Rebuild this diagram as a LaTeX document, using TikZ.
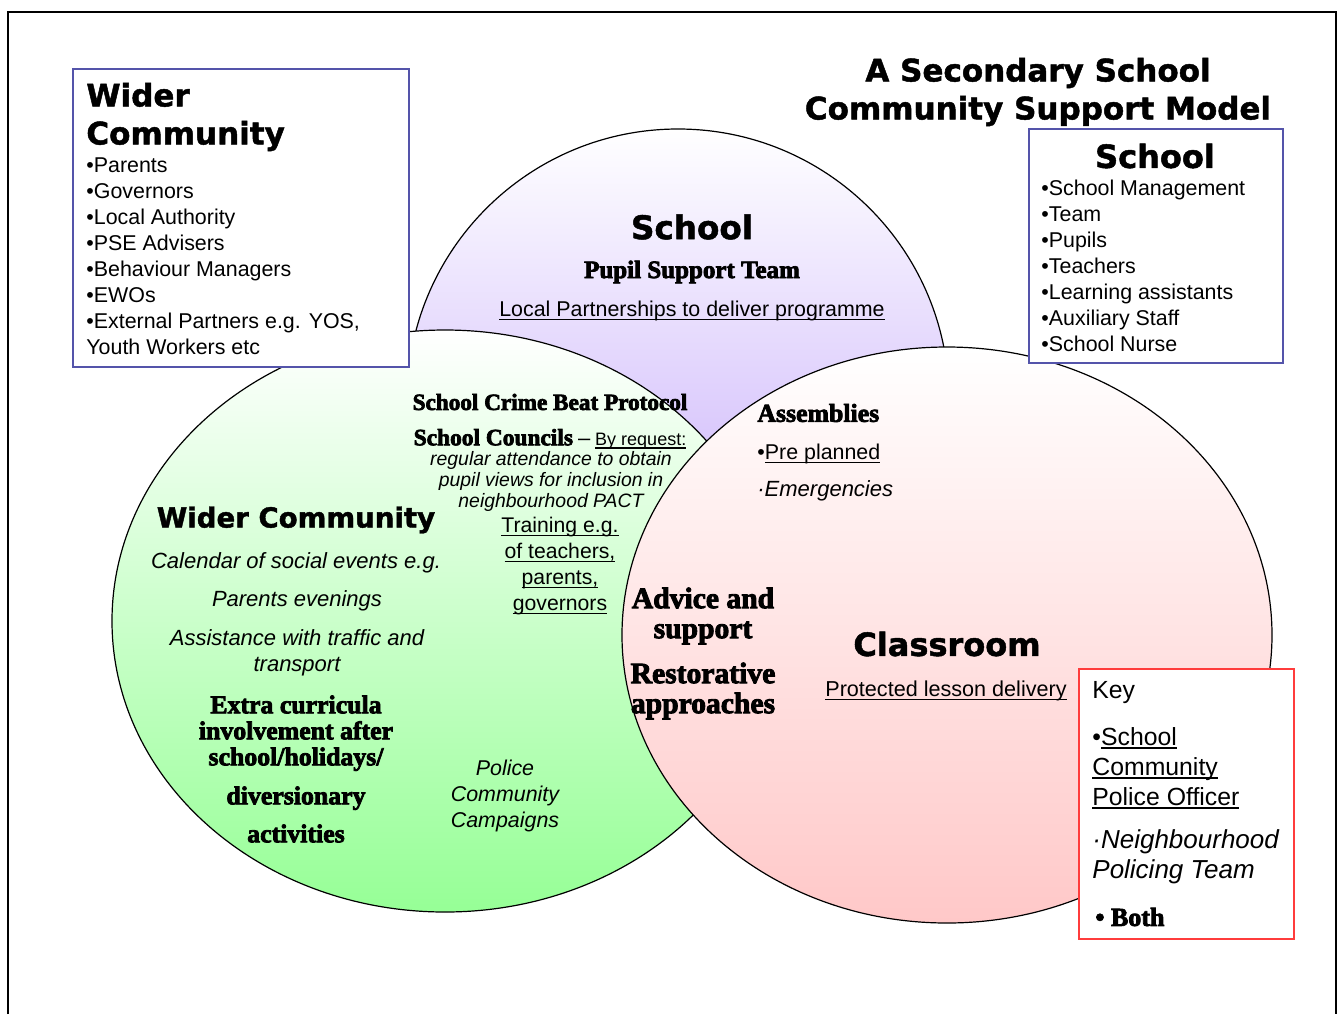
\documentclass[tikz,border=0pt]{standalone}
\usepackage{fontspec}
\setmainfont{Liberation Sans}
\newfontfamily\blackfont{DejaVu Sans}[BoldFeatures={FakeBold=1.5}]
\newfontfamily\slabfont{Liberation Serif}[BoldFeatures={FakeBold=3}]
\usepackage{xcolor}
\usepackage{tikz}
\definecolor{boxblue}{RGB}{84,84,170}
\definecolor{keyred}{RGB}{255,60,60}
\definecolor{schoolbot}{RGB}{190,160,250}
\definecolor{widerbot}{RGB}{150,255,150}
\definecolor{classbot}{RGB}{255,200,200}
\newcommand{\undl}[1]{\setbox0\hbox{#1}\rlap{\rule[-1.7pt]{\wd0}{0.6pt}}\box0}
\tikzstyle{every node}=[inner sep=0pt]
\tikzstyle{ring}=[draw=black,line width=0.6pt]
\tikzstyle{bluebox}=[draw=boxblue,line width=0.8pt,fill=white,anchor=north west]
\tikzstyle{keybox}=[draw=keyred,line width=0.8pt,fill=white,anchor=north west]
\tikzset{
	heavy/.style 2 args={font=\blackfont\bfseries\fontsize{#1}{#2}\selectfont,align=center},
	slab/.style 2 args={font=\slabfont\bfseries\fontsize{#1}{#2}\selectfont,align=center},
	plain/.style 2 args={font=\fontsize{#1}{#2}\selectfont,align=center},
	hand/.style 2 args={font=\itshape\fontsize{#1}{#2}\selectfont,align=center}
}

\begin{document}
\begin{tikzpicture}[x=0.5pt,y=-0.5pt]
		\useasboundingbox (0,0) rectangle (1340,1014);
		\draw[line width=1pt] (8,1014) |- (1336,12) -- (1336,1014);
		\draw[ring,top color=white,bottom color=schoolbot] (678,400) circle [radius=135.5pt];
		\draw[ring,top color=white,bottom color=widerbot] (445,621) ellipse [x radius=166.5pt,y radius=145.5pt];
		\draw[ring,top color=white,bottom color=classbot] (947,635) ellipse [x radius=162.5pt,y radius=144pt];
		\node[bluebox,minimum width=168pt,minimum height=149pt] (widerbox) at (72,68) {};
		\node[bluebox,minimum width=127pt,minimum height=117pt] (schoolbox) at (1028,128) {};
		\node[keybox,minimum width=107.5pt,minimum height=135pt] (keybox) at (1078,668) {};
		\node[heavy={15.5}{19}] (title) at (1038,92) {A Secondary School\\Community Support Model};
		\node[heavy={15.5}{19},align=left,anchor=west] (widerhead) at (86,117) {Wider\\Community};
		\node[plain={10.7}{13},align=left,anchor=west] (widerlist) at (86,256) {•Parents\\•Governors\\•Local Authority\\•PSE Advisers\\•Behaviour Managers\\•EWOs\\•External Partners e.g. YOS,\\Youth Workers etc};
		\node[heavy={16}{19}] (schoolhead) at (1155,156) {School};
		\node[plain={10.7}{13},align=left,anchor=west] (schoollist) at (1041,266) {•School Management\\•Team\\•Pupils\\•Teachers\\•Learning assistants\\•Auxiliary Staff\\•School Nurse};
		\node[plain={12.4}{15},anchor=west] (keyhead) at (1092,693) {Key};
		\node[plain={12.4}{15},align=left,anchor=west] (keyofficer) at (1092,768) {•\undl{School}\\\undl{Community}\\\undl{Police Officer}};
		\node[hand={13}{15},align=left,anchor=west] (keyteam) at (1092,857) {·Neighbourhood\\Policing Team};
		\node[slab={13}{15},anchor=west] (keyboth) at (1095,917) {• Both};
		\node[heavy={16.3}{19}] (schoolname) at (692,227) {School};
		\node[slab={12.5}{15}] (pupilteam) at (692,272) {Pupil Support Team};
		\node[plain={10.7}{13}] (partners) at (692,311) {\undl{Local Partnerships to deliver programme}};
		\node[slab={11.6}{13}] (crimebeat) at (550,402) {School Crime Beat Protocol};
		\node[plain={9}{13}] (councils) at (550,439) {{\slabfont\bfseries\fontsize{11.7}{13}\selectfont School Councils} {\fontsize{11}{13}\selectfont –} \undl{By request:}};
		\node[hand={9.7}{10.5}] (councilviews) at (551,481) {regular attendance to obtain\\pupil views for inclusion in\\neighbourhood PACT};
		\node[plain={10.6}{13}] (training) at (560,566) {\undl{Training e.g.}\\\undl{of teachers,}\\\undl{parents,}\\\undl{governors}};
		\node[heavy={13.8}{19}] (widername) at (296,520) {Wider Community};
		\node[hand={11}{13}] (calendar) at (296,563) {Calendar of social events e.g.};
		\node[hand={11}{13}] (evenings) at (297,601) {Parents evenings};
		\node[hand={11}{13}] (traffic) at (297,653) {Assistance with traffic and\\transport};
		\node[slab={12.9}{13}] (extra) at (296,769) {Extra curricula\\involvement after\\school/holidays/\\[6.5pt]diversionary\\[6pt]activities};
		\node[hand={10.7}{13}] (campaigns) at (505,796) {Police\\Community\\Campaigns};
		\node[slab={12.9}{15},anchor=west] (assemblies) at (757,413) {Assemblies};
		\node[plain={10.7}{13},anchor=west] (preplanned) at (757,454) {•\undl{Pre planned}};
		\node[hand={11}{13},anchor=west] (emergencies) at (757,491) {·Emergencies};
		\node[slab={14.8}{15}] (advice) at (703,616) {Advice and\\support};
		\node[slab={14.8}{15}] (restorative) at (703,691) {Restorative\\approaches};
		\node[heavy={16}{19}] (classname) at (947,644) {Classroom};
		\node[plain={10.8}{13}] (lessons) at (946,691) {\undl{Protected lesson delivery}};
\end{tikzpicture}
\end{document}
